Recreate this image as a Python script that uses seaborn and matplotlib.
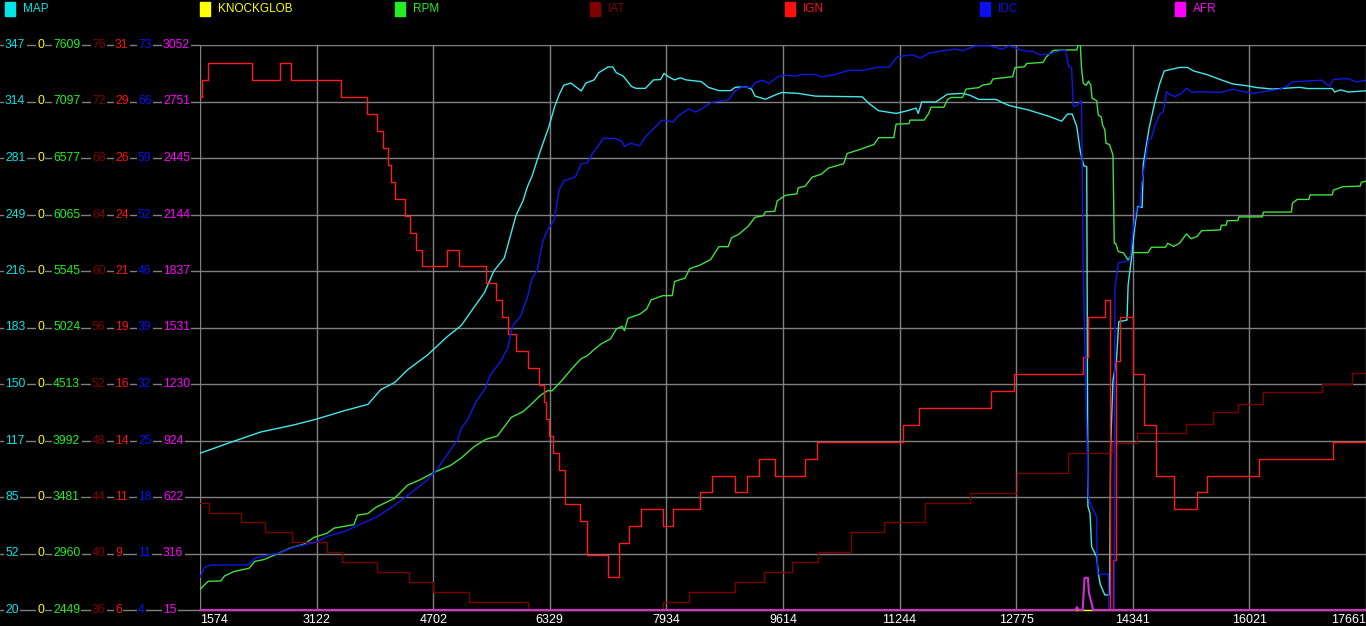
import matplotlib
matplotlib.use("Agg")
import matplotlib.pyplot as plt
from matplotlib.patches import Rectangle
import pandas as pd
import seaborn as sns

# ---- data (x = log sample position, 0..1000; values in channel units) ----
time_labels = ['1574', '3122', '4702', '6329', '7934', '9614',
               '11244', '12775', '14341', '16021', '17661']

names = ['MAP', 'KNOCKGLOB', 'RPM', 'IAT', 'IGN', 'IDC', 'AFR']

map_ticks = [20, 52, 85, 117, 150, 183, 216, 249, 281, 314, 347]
knock_ticks = [0, 0, 0, 0, 0, 0, 0, 0, 0, 0, 0]
rpm_ticks = [2449, 2960, 3481, 3992, 4513, 5024, 5545, 6065, 6577, 7097, 7609]
iat_ticks = [36, 40, 44, 48, 52, 56, 60, 64, 68, 72, 76]
ign_ticks = [6, 9, 11, 14, 16, 19, 21, 24, 26, 29, 31]
idc_ticks = [4, 11, 18, 25, 32, 39, 46, 52, 59, 66, 73]
afr_ticks = [15, 316, 622, 924, 1230, 1531, 1837, 2144, 2445, 2751, 3052]

map_x = [0, 24, 52, 81, 100, 124, 144, 155, 167, 178, 195, 212, 224, 235, 244, 252, 261,
         271, 277, 281, 285, 289, 294, 299, 304, 308, 312, 318, 327, 331, 338, 342, 350,
         354, 357, 363, 370, 374, 382, 389, 395, 398, 402, 407, 412, 417, 430, 436, 445,
         455, 459, 468, 473, 476, 485, 493, 499, 513, 528, 568, 574, 582, 597, 607, 614,
         616, 619, 631, 641, 654, 660, 668, 683, 687, 694, 700, 710, 729, 739, 744, 748,
         752, 755, 758, 760.5, 761.5, 763.3, 764.7, 769, 770.4, 772, 776, 780, 781, 783,
         786, 788, 795, 796, 799, 801, 804, 808, 809, 814, 819, 823, 827, 840, 847, 852,
         864, 875, 886, 897, 906, 920, 943, 950, 971, 973, 978, 985, 1000]
map_v = [110.7, 116.5, 123, 127.2, 130.5, 135.4, 139, 147.5, 151.7, 159, 167.5, 178.2,
         184.6, 195.2, 203.7, 216.2, 223.8, 248.3, 256.8, 265.3, 271.5, 280, 289.8, 299.2,
         311, 318.2, 323.7, 325, 320.4, 325, 326.8, 331, 334.3, 334.3, 331, 329, 323,
         321.9, 321.9, 326.8, 327, 330.6, 328.5, 326.8, 328, 326.8, 325.8, 322.5, 320.6,
         320.6, 322.5, 322.9, 321.5, 317.4, 315.6, 318, 319.5, 319, 317.4, 317, 313, 309,
         307.4, 309, 310.5, 307.4, 314, 314, 318.5, 319, 318, 315.5, 315.5, 314, 312, 311,
         309.5, 305.5, 302.9, 307, 307, 299.7, 285.2, 277, 276.6, 80, 76, 56.6, 50.7, 41.4,
         35, 28.7, 28.7, 114.5, 153, 164.6, 186.9, 187.8, 208, 224.4, 238, 253.4, 253, 278,
         299, 314, 324.4, 332, 334, 334, 332, 329.8, 327, 324.4, 323.5, 322.4, 321.5,
         322.5, 321.8, 321.8, 319.8, 321, 319.8, 320.5]

knock_x = [0, 1000]
knock_v = [0, 0]

rpm_x = [0, 2, 7, 18, 21, 29, 42, 47, 55, 67, 78, 89, 98, 109, 115, 132, 135, 144, 151,
         167, 178, 189, 201, 215, 224, 235, 245, 255, 267, 277, 284, 292, 298, 302, 309,
         321, 327, 332, 338, 344, 352, 357, 362, 364, 367, 377, 383, 387, 397, 405, 407,
         416, 420, 429, 438, 445, 453, 456, 462, 470, 476, 483, 485, 493, 495, 502, 512,
         513, 519, 525, 533, 539, 552, 555, 566, 574, 578, 582, 595, 597, 608, 609, 621,
         625, 627, 638, 641, 644, 654, 657, 668, 671, 678, 680, 697, 699, 707, 709, 723,
         726, 732, 742, 752, 753, 755, 756, 757.5, 760, 762, 764, 765, 769, 770.4, 773,
         774, 776, 777, 780, 783, 784.1, 785.3, 787.6, 792, 796, 800, 813, 816, 828, 830,
         835, 840, 846, 850, 855, 859, 875, 876, 880, 881, 890, 891, 911, 912, 936, 937,
         941, 951, 952, 971, 972, 980, 995, 996, 1000]
rpm_v = [2635, 2660, 2711, 2715, 2759, 2800, 2830, 2893, 2910, 2965, 3017, 3050, 3113,
         3150, 3197, 3228, 3315, 3330, 3388, 3470, 3589, 3640, 3707, 3770, 3837, 3940,
         4007, 4038, 4209, 4260, 4327, 4410, 4451, 4451, 4529, 4678, 4745, 4770, 4828,
         4879, 4925, 5014, 5040, 5000, 5113, 5150, 5196, 5282, 5320, 5320, 5449, 5480,
         5566, 5600, 5650, 5767, 5767, 5850, 5880, 5952, 6035, 6050, 6086, 6090, 6185,
         6236, 6250, 6304, 6320, 6402, 6430, 6485, 6525, 6618, 6655, 6686, 6700, 6763,
         6763, 6887, 6890, 6923, 6923, 6985, 7041, 7041, 7108, 7130, 7130, 7206, 7220,
         7242, 7255, 7299, 7320, 7403, 7410, 7440, 7450, 7502, 7560, 7564, 7564, 7609,
         7609, 7400, 7259, 7240, 7280, 7240, 7124, 7100, 6969, 6950, 6880, 6835, 6712,
         6700, 6604, 5798, 5798, 5722, 5710, 5645, 5713, 5713, 5762, 5762, 5798, 5770,
         5798, 5883, 5840, 5860, 5913, 5920, 5963, 5963, 6005, 6005, 6039, 6039, 6083,
         6083, 6166, 6199, 6199, 6240, 6240, 6283, 6315, 6320, 6356, 6365]

iat_x = [0, 8, 35, 56, 79, 109, 122, 152, 179, 200, 231, 281, 397, 419, 459, 484, 508,
         530, 558, 587, 622, 660, 701, 744, 782, 804, 846, 869, 890, 912, 962, 988, 1000]
iat_v = [43.6, 42.9, 42.2, 41.5, 40.8, 40.1, 39.4, 38.7, 38.0, 37.3, 36.6, 36.0, 36.6,
         37.3, 38.0, 38.7, 39.4, 40.1, 41.5, 42.2, 43.6, 44.3, 45.7, 47.1, 47.8, 48.5,
         49.2, 50.0, 50.6, 51.4, 52.0, 52.8, 52.8]

ign_x = [0, 1.4, 6.6, 45, 69, 78, 121, 143, 152, 157, 161, 164, 167, 176, 180, 185, 190,
         212, 222, 245, 254, 259, 264, 271, 281, 291, 295, 297, 299, 303, 308, 313, 326,
         332, 350, 359, 368, 378, 397, 406, 429, 439, 459, 469, 479, 493, 519, 529, 603,
         617, 678, 698, 757, 761.5, 776, 780.4, 783, 786, 789, 800, 810, 820, 835, 855,
         864, 908, 972, 1000]
ign_v = [28.7, 29.45, 30.2, 29.45, 30.2, 29.45, 28.7, 27.95, 27.2, 26.45, 25.7, 24.95,
         24.2, 23.45, 22.7, 21.95, 21.2, 21.95, 21.2, 20.45, 19.7, 18.95, 18.2, 17.45,
         16.7, 15.95, 15.2, 14.45, 13.7, 12.95, 12.2, 10.7, 9.95, 8.45, 7.45, 8.95, 9.7,
         10.45, 9.7, 10.45, 11.2, 11.95, 11.2, 11.95, 12.7, 11.95, 12.7, 13.45, 14.2,
         14.95, 15.7, 16.45, 17.2, 18.95, 19.7, 3.0, 8.2, 17.0, 18.95, 16.45, 14.2, 11.95,
         10.45, 11.2, 11.95, 12.7, 13.45, 13.45]

idc_x = [0, 4, 9, 41, 47, 58, 67, 81, 100, 109, 124, 138, 152, 167, 181, 195, 204, 212,
         221, 224, 229, 237, 244, 249, 258, 264, 268, 275, 281, 285, 289, 294, 298, 304,
         308, 312, 322, 327, 332, 337, 346, 356, 362, 364, 369, 377, 382, 387, 392, 396,
         400, 406, 410, 419, 425, 430, 439, 453, 459, 465, 473, 476, 482, 488, 495, 501,
         511, 516, 528, 533, 545, 556, 568, 582, 591, 597, 599, 611, 618, 625, 637, 648,
         654, 665, 677, 688, 694, 700, 706, 715, 720, 729, 735, 742, 743, 745, 747.5, 749,
         752, 756, 757.5, 761.8, 765, 769, 769.5, 770.4, 779, 779.8, 784, 784.7, 787.6,
         797.6, 799.9, 803.3, 806, 807.6, 810.4, 813.3, 816, 819, 823.3, 826, 829, 831,
         836, 841, 846, 851, 857, 875, 886, 895, 903, 912, 926, 932, 937, 949, 962, 966,
         969, 972, 984, 992, 1000]
idc_v = [8.0, 9.2, 9.5, 9.5, 10.3, 10.7, 10.9, 11.7, 12.3, 13.0, 13.6, 14.5, 15.4, 16.8,
         18.3, 19.9, 21.3, 23.0, 24.8, 26.2, 27.1, 29.5, 30.9, 32.7, 34.4, 36.0, 38.7,
         39.9, 42.3, 44.6, 45.4, 49.0, 50.4, 51.7, 55.3, 56.4, 56.9, 58.5, 58.6, 59.8,
         61.6, 61.6, 61.2, 60.6, 61.0, 60.7, 61.8, 62.5, 63.2, 63.8, 63.8, 63.6, 64.3,
         65.2, 64.8, 65.2, 66.0, 66.3, 67.4, 67.9, 67.8, 68.4, 68.7, 68.3, 69.1, 69.3,
         69.2, 69.4, 69.4, 69.1, 69.4, 69.9, 69.9, 70.3, 70.3, 71.4, 71.6, 71.8, 71.4,
         72.0, 72.3, 72.5, 72.3, 72.9, 72.9, 72.5, 72.9, 72.6, 72.3, 72.2, 71.8, 71.9,
         72.2, 72.4, 71.8, 70.4, 70.2, 65.5, 65.6, 66.2, 45.0, 17.8, 16.5, 15.4, 8.9, 8.4,
         8.4, 2.0, 2.0, 43.3, 46.4, 46.7, 50.0, 53.1, 53.1, 56.1, 58.6, 61.4, 61.6, 63.2,
         64.6, 64.8, 67.3, 67.0, 66.7, 67.0, 67.7, 67.2, 67.3, 67.2, 67.6, 67.3, 67.1,
         67.3, 67.6, 68.0, 68.5, 68.6, 68.7, 68.2, 68.0, 68.8, 68.9, 68.5, 68.7]

afr_x = [0, 751, 752, 754, 757, 758.6, 761.5, 762.4, 764.7, 766, 1000]
afr_v = [15, 15, 30, 15, 15, 188, 188, 106, 50, 15, 15]

colors = ['#00e5e5', '#ffff00', '#22ee22', '#800000', '#ff1010', '#0a10f0', '#ff00ff']
line_colors = ['#40e8e8', '#ffff00', '#40e040', '#7a0000', '#ff1a1a', '#1018e8', '#d030d0']

series = [(map_x, map_v, map_ticks), (knock_x, knock_v, knock_ticks),
          (rpm_x, rpm_v, rpm_ticks), (iat_x, iat_v, iat_ticks),
          (ign_x, ign_v, ign_ticks), (idc_x, idc_v, idc_ticks),
          (afr_x, afr_v, afr_ticks)]

# ---- figure ----
W, H = 1366, 626
L, R, T, B = 200, 1366, 45, 610

sns.set_style("dark", {"axes.facecolor": "black", "figure.facecolor": "black"})
plt.rcParams['font.family'] = ['Liberation Sans', 'DejaVu Sans']

fig = plt.figure(figsize=(W / 100, H / 100), dpi=100)
ax = fig.add_axes([L / W, (H - B) / H, (R - L) / W, (B - T) / H])
ax.set_xlim(0, 1000)
ax.set_ylim(0, 1)
for s in ax.spines.values():
    s.set_visible(False)

for k in range(11):
    ax.axhline(k / 10, color='#808080', lw=1, zorder=1)
    ax.axvline(k * 100, color='#808080', lw=1, zorder=1)

for i, (xs, vs, ticks) in enumerate(series):
    lo, hi = ticks[0], ticks[-1]
    span = (hi - lo) if hi != lo else 1
    df = pd.DataFrame({'x': xs, 'y': [(v - lo) / span for v in vs]})
    steps = names[i] in ('IAT', 'IGN')
    sns.lineplot(data=df, x='x', y='y', ax=ax, color=line_colors[i],
                 lw=1.5 if names[i] == 'AFR' else 1.0,
                 estimator=None, sort=False,
                 drawstyle='steps-post' if steps else 'default',
                 clip_on=names[i] not in ('AFR', 'KNOCKGLOB'), zorder=3 + i)

ax.set_xlabel('')
ax.set_ylabel('')
ax.set_yticks([])
ax.set_xticks([k * 100 for k in range(11)])
ax.set_xticklabels(time_labels, color='white', fontsize=9)
ax.tick_params(axis='x', length=0, pad=3)
tl = ax.get_xticklabels()
tl[0].set_ha('left')
tl[-1].set_ha('right')

# left stacked scales: grey leader lines with coloured labels on top
col_px = [5, 37, 53, 92, 115, 138, 163]
for k in range(11):
    y = k / 10
    ax.plot([-L / (R - L), 0], [y, y], transform=ax.transAxes, color='#808080',
            lw=1, clip_on=False, zorder=1)
    for i, (_, _, ticks) in enumerate(series):
        ax.text((col_px[i] - L) / (R - L), y, str(ticks[k]), transform=ax.transAxes,
                color=colors[i], fontsize=8.7, ha='left', va='center',
                bbox=dict(facecolor='black', edgecolor='none', pad=1.0), zorder=5)

# top legend
for i, name in enumerate(names):
    x0 = 5 + 195 * i
    fig.patches.append(Rectangle((x0 / W, (H - 16) / H), 10 / W, 14 / H,
                                 transform=fig.transFigure, color=colors[i]))
    fig.text((x0 + 18) / W, (H - 9) / H, name, color=colors[i], fontsize=8.5,
             ha='left', va='center')

fig.savefig('out.png', dpi=100, facecolor='black')
